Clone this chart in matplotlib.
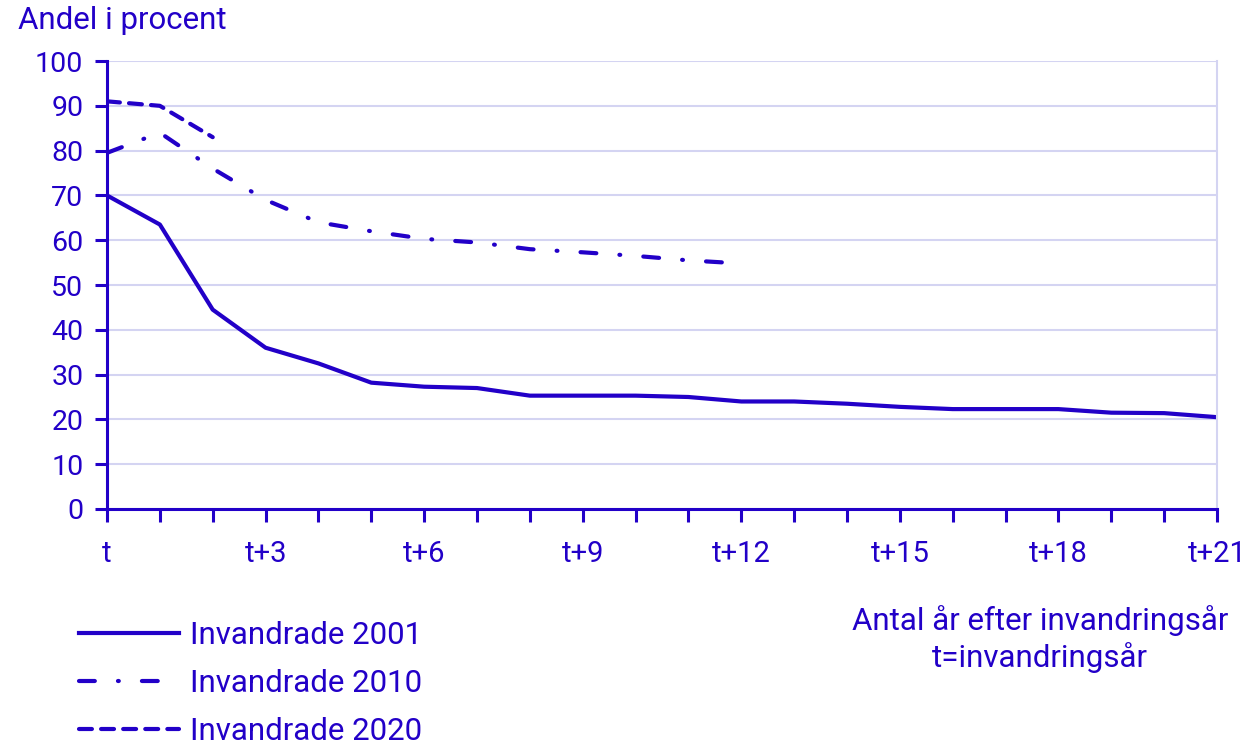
import matplotlib
matplotlib.use("Agg")
import matplotlib.pyplot as plt
import numpy as np

plt.rcParams["font.family"] = ["Roboto", "DejaVu Sans"]

BLUE = "#2200c8"
GRID = "#d4d4f2"

years_after = list(range(22))
tick_labels = ["t", "t+3", "t+6", "t+9", "t+12", "t+15", "t+18", "t+21"]

inv_2001 = [70.0, 63.5, 44.5, 36.0, 32.5, 28.2, 27.3, 27.0, 25.3, 25.3, 25.3,
            25.0, 24.0, 24.0, 23.5, 22.8, 22.3, 22.3, 22.3, 21.5, 21.4, 20.5]
inv_2010 = [79.5, 84.0, 76.0, 69.0, 64.0, 62.0, 60.3, 59.5, 58.0, 57.3, 56.5,
            55.5, 54.8]
inv_2020 = [91.0, 90.0, 83.0]

fig = plt.figure(figsize=(12.5, 7.46), dpi=100)
ax = fig.add_axes([0.0856, 0.3177, 0.888, 0.6005])

ax.plot(years_after, inv_2001, color=BLUE, lw=3.0, solid_joinstyle="round",
        label="Invandrade 2001")
ax.plot(years_after[:len(inv_2010)], inv_2010, color=BLUE, lw=3.0,
        dashes=(3.8, 5.55, 0.2, 5.55), dash_capstyle="round",
        label="Invandrade 2010")
ax.plot(years_after[:len(inv_2020)], inv_2020, color=BLUE, lw=3.0,
        dashes=(3.1, 2.2), dash_capstyle="round", label="Invandrade 2020")

ax.set_xlim(0, 21)
ax.set_ylim(0, 100)
ax.set_yticks(np.arange(0, 101, 10))
ax.set_xticks(np.arange(0, 22, 3))
ax.set_xticklabels(tick_labels)
ax.set_xticks(np.arange(0, 22, 1), minor=True)
ax.yaxis.grid(True, color=GRID, lw=1.5)
ax.set_axisbelow(True)

ax.spines["top"].set_visible(False)
ax.spines["right"].set_color(GRID)
ax.spines["right"].set_linewidth(1.5)
for s in ["left", "bottom"]:
    ax.spines[s].set_color(BLUE)
    ax.spines[s].set_linewidth(2.2)

ax.tick_params(axis="y", colors=BLUE, labelsize=20.5, length=9, width=2.2,
               direction="out", pad=8)
ax.tick_params(axis="x", which="both", colors=BLUE, labelsize=21, length=9,
               width=2.2, direction="out", pad=13)

fig.text(0.014, 0.972, "Andel i procent", color=BLUE, fontsize=22.5,
         ha="left", va="center")
fig.text(0.832, 0.143, "Antal år efter invandringsår\nt=invandringsår",
         color=BLUE, fontsize=22.5, ha="center", va="center", linespacing=1.25)

leg = fig.legend(loc="upper left", bbox_to_anchor=(0.063, 0.168), frameon=False,
                 fontsize=22.5, labelcolor=BLUE, handlelength=3.2,
                 handletextpad=0.36, labelspacing=0.62, borderaxespad=0,
                 borderpad=0)

fig.savefig("out.png", dpi=100, facecolor="white")
